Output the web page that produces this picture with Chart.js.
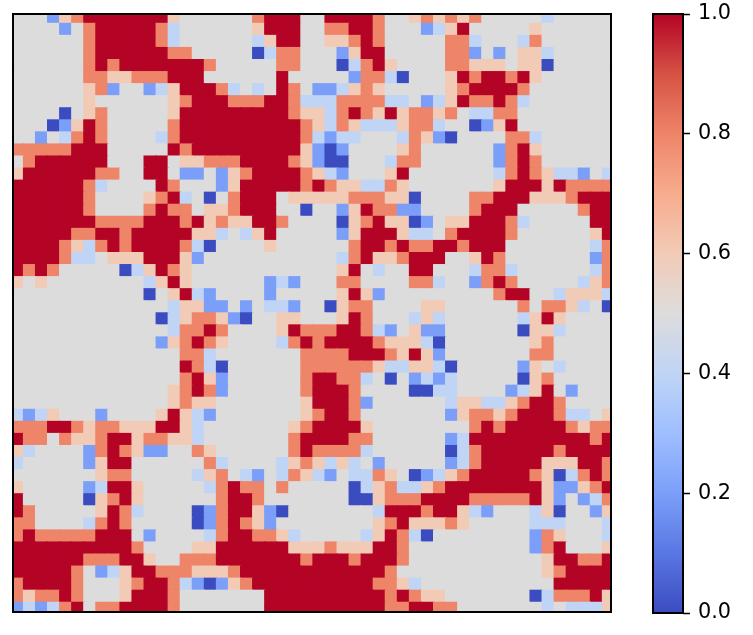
<!DOCTYPE html>
<html>
<head>
<meta charset="utf-8">
<title>heatmap</title>
<script src="https://cdn.jsdelivr.net/npm/chart.js@4/dist/chart.umd.min.js"></script>
<style>
  html, body { margin: 0; padding: 0; background: #fff; overflow: hidden; }
  canvas { position: absolute; top: 0; }
  #heatmap { left: 0; }
  #colorbar { left: 640px; }
</style>
</head>
<body>
<canvas id="heatmap" width="640" height="635"></canvas>
<canvas id="colorbar" width="113" height="635"></canvas>
<script>
// value of each letter used in the rows below
const cellCodes = { d: 0, m: 0.2, l: 0.4, ".": 0.5, a: 0.6, o: 0.8, r: 1 };

// one string per row, top to bottom, one letter per column
const cellRows = [
  "...maorrrrrrra.." + "....orrr..rrrro.." + "aoaoao.....l.....",
  "....m.orrrrrol.." + "....arrr..oorro.." + ".mlar.....a......",
  "......orrrrrol.." + "....larr..aaoro.." + "...ool...lo......",
  "......orrrrrroo." + "....dloo...marr.." + "...oom.m.aal.....",
  "......ororrrrrrr" + "o.....oo...dlora." + "...ooaaa.aad.....",
  "......ooaaooorrr" + "......r.....moold" + "...arorrora......",
  "......aom..mlarr" + "rol.l.ro.mmlaoa.." + "...aorrrro.......",
  "......a......aor" + "rrooorrolllooooll" + ".mlaroorol.......",
  "....d.ao.....arr" + "rrrrrrroaaloroara" + "ooao.lloo........",
  "...dmaro.....orr" + "rrrrrrrroaloallla" + "ool..dmar........",
  "..m.loro....lorr" + "rrrrrrrrolmll...l" + "oamd....ool......",
  "ooooorrr.....ror" + "rrrrrrrramdm....a" + "o......mora......",
  ".orrrrrr...rr.aa" + "ooorrrroamdd...lo" + "o......moro......",
  "arrrrrroo..rr.mm" + ".maorrrroalm...ar" + ".......loroallm.l",
  "rrrrrrol....ro.." + ".marrrrroroaalloa" + ".......arrraroooo",
  "rrrrrro....aorl." + "d.orrr.aaaaaoooaa" + "d....oorrraaaorrr",
  "rrrrrro....oroo." + "aaorrr..d..maroom" + "m....orrr.....orr",
  "rrrrrrroooorrror" + "aoaarro....daoraa" + "dm.aarrrol.....rr",
  "rrrrroorrorrrrra" + "al.lar.....marrra" + "ll.orrrro......ar",
  "rrrroalororrrrol" + "d....a......orror" + "oorrorrr.......lo",
  "rrrroll.aaarrram" + "...........loraao" + "rrr..aro.......mo",
  "roro.....dlaroa." + "...........ar.l.." + "rr...lool......lo",
  "a.a........lara." + ".....mlm...oo...." + "ool..moro.....lao",
  "...........d.arl" + "m....m.....aram.." + ".......orr..laaal",
  ".............laa" + "mm.m.llm..daoo..." + ".aa......o.ooal.d",
  "............dlao" + "oamd..aa...aro..." + "lal......lara....",
  ".............loo" + "ro....arooorrolm." + "amm......daal....",
  "............maor" + "oa....lororrrroaa" + "ald.......ao.....",
  "..............oo" + "l.......oooorrroa" + "ram.......oo.....",
  "..............ro" + "ld......ooooooall" + "aald.....ma.l....",
  "..............or" + "am......orrool.d." + "mlml.....dao.....",
  ".............aor" + "om......orrro...." + "ddll....mlar.m...",
  ".............aoa" + "a.......arrrom..." + "...laallaorro....",
  "lmla...m....aral" + "m.......aorro...." + "...maooaorrroll.a",
  "ooorroaooaaarral" + ".......aorrrra..." + ".....ororrrrroaoo",
  "roo.oaaorraooaal" + ".......orrrroo..." + "...mlrrrrrrrrrror",
  "al....moroamm..o" + "a......orooool..." + "...dlorrrrrrorrrr",
  "l.....marr......" + "ol....laoalal.m.." + "...mlorrrrraaarro",
  ".......aoo.....l" + "ao.lm.loalm.lloa." + "dmlaorrrrroadloro",
  "a.....mlrra....." + "loroo.o.....dlaol" + "laorrrrrrrrammaor",
  "r.....daora....." + ".orro.......ddaoo" + "orrrroooooram.mlo",
  "ro.....arol....d" + "morramd.......lrr" + "rorralm...lad..ma",
  "oo....loro.....d" + "moroam........aor" + "aaaoa.....lll...l",
  "orooooorrr.m...." + "lorrooal.....laro" + "ld........moa...l",
  "rrrrrrrrrro....a" + "arrrrrraaaoaaarro" + "..........mor...a",
  "rrrrrrooorra..oo" + "orrrrrrrorrrorrro" + "...........arroor",
  "rrrrro.mlarroooa" + "aaorrrrrrrrrrrro." + "...........aorrrr",
  "orrrro...aorrolm" + "dmaorrrrrrrrrrooa" + "l...........rrrrr",
  "oaooro...arrro.." + ".....rrrrrrrrrror" + "oaa.......dlooora",
  "mlmlor.oorrrro.." + ".....rrrrrrrrrroo" + "rroo.......l.llla",
];

const colorbarTicks = [0, 0.2, 0.4, 0.6, 0.8, 1];

// coolwarm, 11 steps from 0 to 1
const coolwarm = ["#3b4cc0", "#5977e3", "#7b9ff9", "#9ebeff", "#c0d4f5", "#dddcdc",
  "#f2cbb7", "#f7ac8e", "#ee8468", "#d65244", "#b40426"];

function valueColor(v) {
  return coolwarm[Math.round(v * 10)];
}

const frame = {
  id: "frame",
  afterDraw(chart) {
    const { ctx, chartArea: a } = chart;
    ctx.save();
    ctx.strokeStyle = "#000";
    ctx.lineWidth = 2;
    ctx.strokeRect(a.left, a.top, a.right - a.left, a.bottom - a.top);
    ctx.restore();
  },
};

const columns = Array.from({ length: 50 }, (_, i) => i);

// stacked bars: first dataset sits at the bottom, so rows go in reverse
const datasets = cellRows.slice().reverse().map((row) => ({
  data: columns.map((c) => ({ x: c, y: 1 })),
  backgroundColor: columns.map((c) => valueColor(cellCodes[row[c]])),
  borderWidth: 0,
  inflateAmount: 0.6,
  barPercentage: 1,
  categoryPercentage: 1,
  clip: 0,
}));

new Chart(document.getElementById("heatmap"), {
  type: "bar",
  data: { datasets },
  options: {
    responsive: false,
    animation: false,
    layout: { padding: { left: 13, top: 14, right: 29, bottom: 23 } },
    plugins: { legend: { display: false }, tooltip: { enabled: false } },
    scales: {
      // the outer cells are cut a little by the frame, as in the original
      x: { type: "linear", offset: false, stacked: true, display: false, min: -0.37, max: 49.21 },
      y: { stacked: true, display: false, min: 0.2, max: 49.78 },
    },
  },
  plugins: [frame],
});

new Chart(document.getElementById("colorbar"), {
  type: "bar",
  data: {
    labels: [""],
    datasets: [{
      data: [1],
      barPercentage: 1,
      categoryPercentage: 1,
      borderWidth: 0,
      backgroundColor(c) {
        const area = c.chart.chartArea;
        if (!area) return coolwarm[5];
        const g = c.chart.ctx.createLinearGradient(0, area.bottom, 0, area.top);
        coolwarm.forEach((col, i) => g.addColorStop(i / 10, col));
        return g;
      },
    }],
  },
  options: {
    responsive: false,
    animation: false,
    layout: { padding: { left: 13, top: 14, right: 0, bottom: 22 } },
    plugins: { legend: { display: false }, tooltip: { enabled: false } },
    scales: {
      x: { display: false },
      y: {
        position: "right",
        min: 0,
        max: 1,
        afterBuildTicks(s) { s.ticks = colorbarTicks.map((value) => ({ value })); },
        afterFit(s) {
          s.width = 70;
          s.paddingTop = 0;
          s.paddingBottom = 0;
        },
        border: { display: false },
        grid: { drawOnChartArea: false, tickLength: 7, tickColor: "#000", tickWidth: 1.5 },
        ticks: {
          color: "#000",
          padding: 8,
          font: { family: "'DejaVu Sans'", size: 20.8 },
          callback: (v) => Number(v).toFixed(1),
        },
      },
    },
  },
  plugins: [frame],
});
</script>
</body>
</html>
